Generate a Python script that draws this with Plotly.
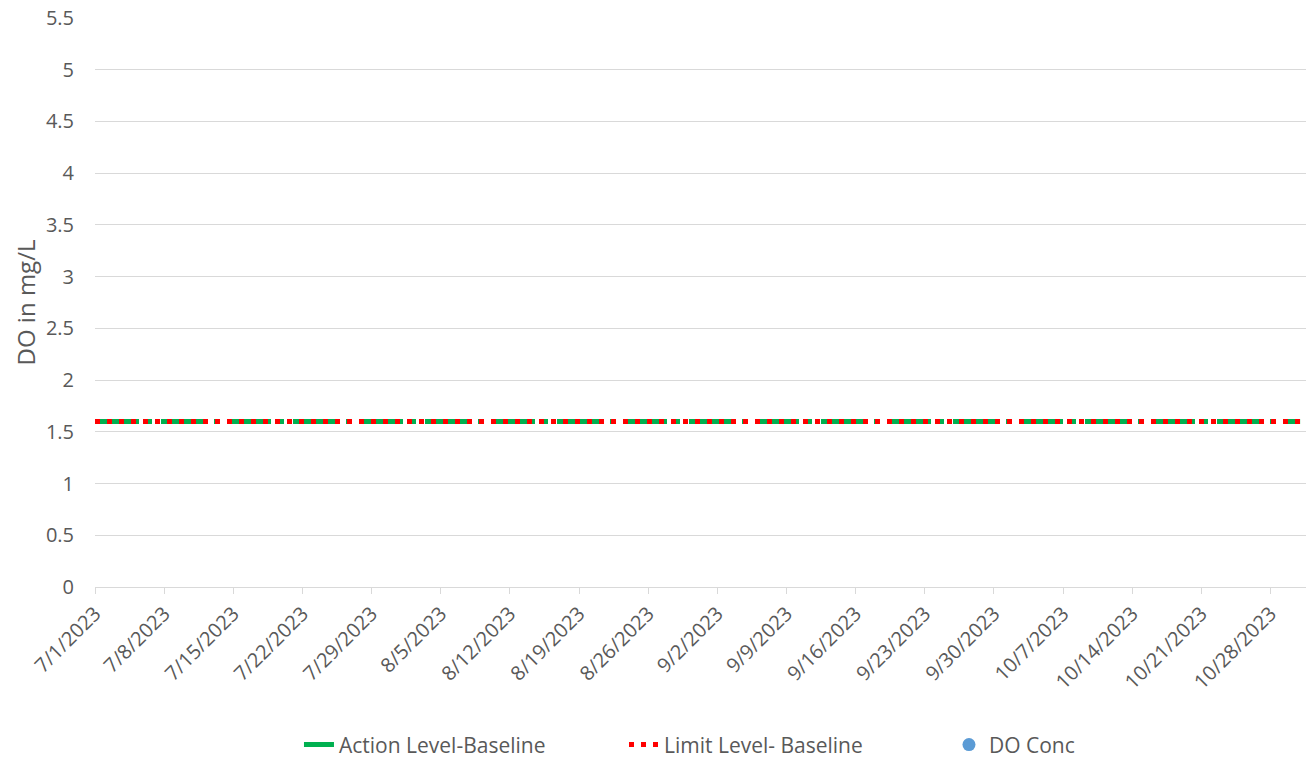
import plotly.graph_objects as go

# baseline levels over the monitoring period
dates = ["2023-07-01", "2023-10-31"]
action_level = [1.6, 1.6]
limit_level = [1.6, 1.6]

# no DO measurements plotted yet
do_dates = [None]
do_conc = [None]

fig = go.Figure()

fig.add_trace(go.Scatter(
    x=dates, y=action_level, name="Action Level-Baseline", mode="lines",
    line=dict(color="#00B050", width=5, dash="44px,9px,4px,9px"),
))
fig.add_trace(go.Scatter(
    x=dates, y=limit_level, name="Limit Level- Baseline", mode="lines",
    line=dict(color="#FF0000", width=5, dash="5px,7px"),
))
fig.add_trace(go.Scatter(
    x=do_dates, y=do_conc, name="DO Conc", mode="markers",
    marker=dict(color="#5B9BD5", size=13),
))

font_color = "#595959"
grid_color = "#D9D9D9"

# page body adds an 8px margin, so the figure is sized to fit inside it
fig.update_layout(
    width=1306, height=752,
    margin=dict(l=87, r=4, t=10, b=173),
    paper_bgcolor="white", plot_bgcolor="white",
    font=dict(family="Open Sans, Lato, sans-serif", size=20, color=font_color),
    showlegend=True,
    legend=dict(
        orientation="h",
        xref="container", x=0.2228, xanchor="left",
        yref="container", y=0.02, yanchor="middle",
        entrywidth=280, entrywidthmode="pixels",
        font=dict(size=21, color=font_color),
    ),
)

fig.update_xaxes(
    type="date",
    range=["2023-07-01", "2023-11-01"],
    tick0="2023-07-01", dtick=7 * 86400000,
    tickformat="%-m/%-d/%Y", tickangle=-45,
    showgrid=False, showline=True, linecolor=grid_color, linewidth=1,
    ticks="outside", ticklen=6, tickcolor=grid_color,
    zeroline=False, automargin=False,
)

fig.update_yaxes(
    range=[0, 5.5], dtick=0.5,
    showgrid=True, gridcolor=grid_color, gridwidth=1,
    zeroline=False, showline=False, automargin=False,
    ticklabelstandoff=20, ticklabeloverflow="allow",
    title=dict(text="DO in mg/L", standoff=3),
    tickformat="~g",
)

fig.write_html("out.html")
